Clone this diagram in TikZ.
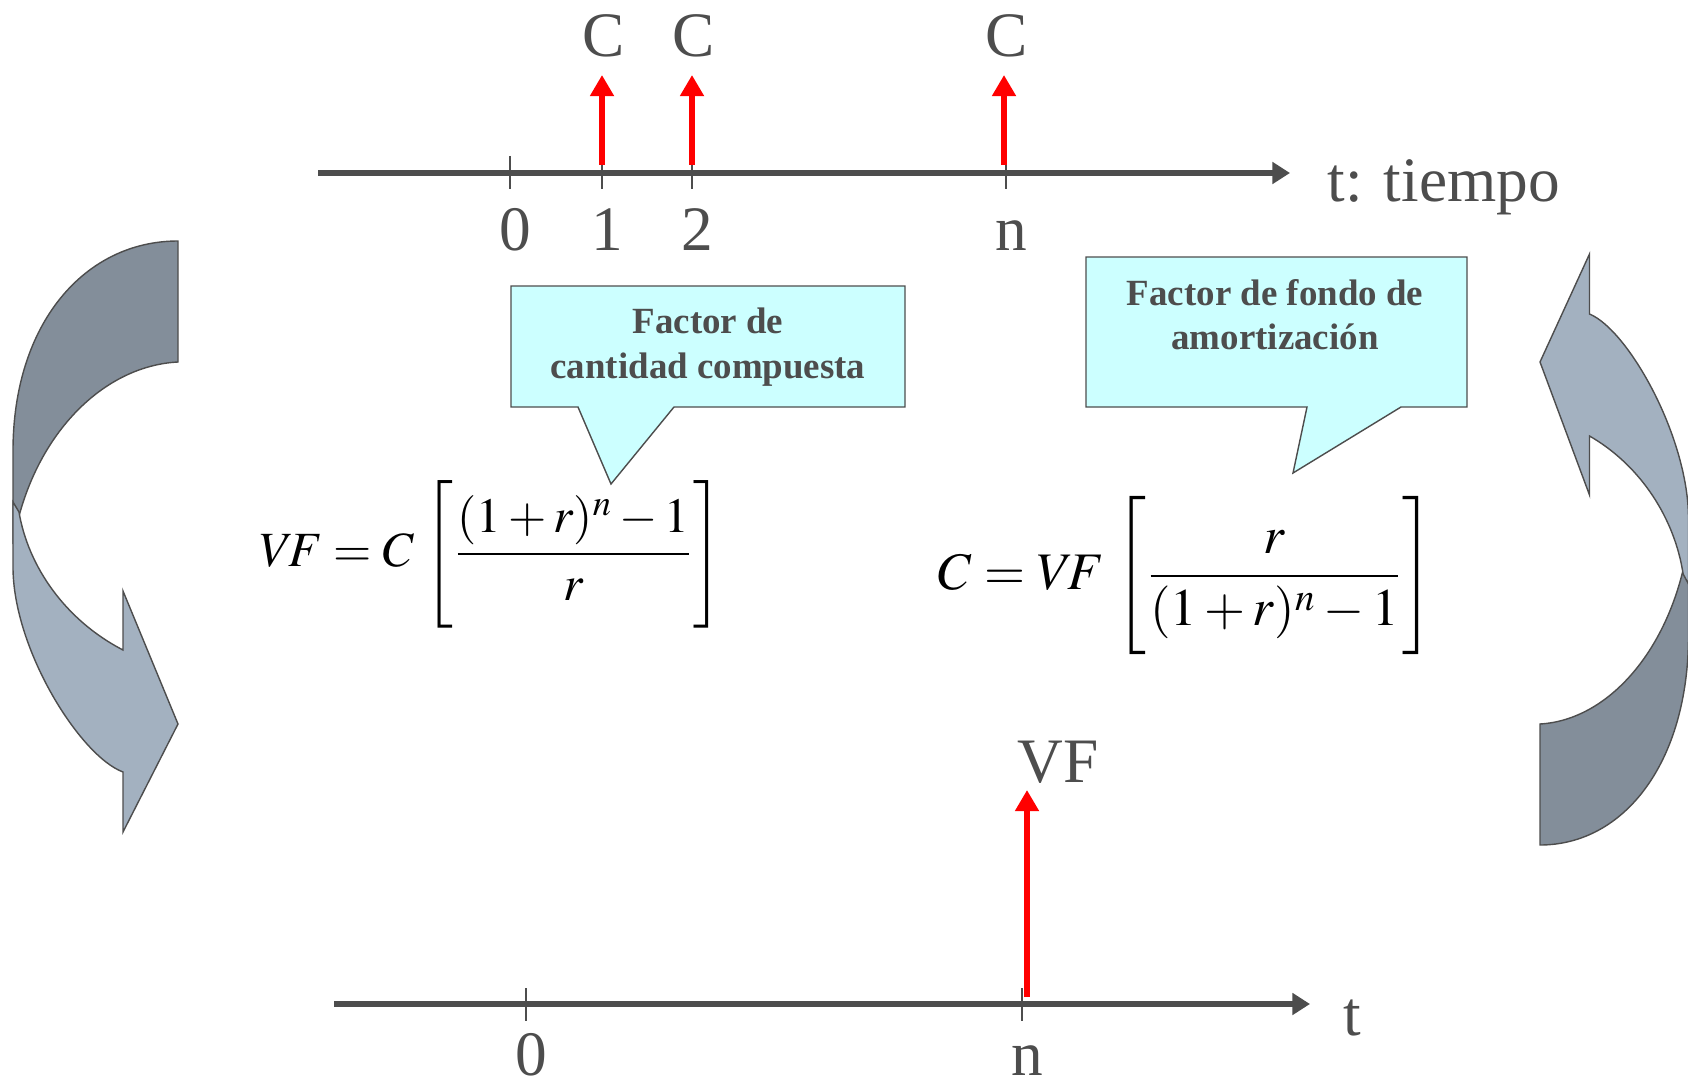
\documentclass[tikz,border=0pt]{standalone}
\usepackage{mathptmx}
\usepackage[no-math]{fontspec}
\setmainfont{Liberation Serif}
\usetikzlibrary{arrows.meta}
\definecolor{axisgray}{HTML}{4D4D4D}
\definecolor{notecyan}{HTML}{CCFFFF}
\definecolor{banddark}{HTML}{838E9A}
\definecolor{bandlight}{HTML}{A3B1C0}

% curved band arrow, drawn in pixel units (left copy)
\newcommand\bendarrow{%
  \filldraw[band, fill=banddark] (178,241) -- (178,362)
    .. controls (100,366) and (30,440) .. (13,544) -- (13,451)
    .. controls (13,323) and (85,241) .. (178,241) -- cycle;
  \filldraw[band, fill=bandlight] (123,650)
    .. controls (65,620) and (28,566) .. (19,512) -- (13,502) -- (13,567)
    .. controls (13,649) and (80,756) .. (123,772)
    -- (123,832) -- (178,724) -- (123,591) -- cycle;
}
% tall bracket strut
\newcommand\brk[1]{\vcenter{\hbox{\rule{0pt}{#1}}}}

\begin{document}
\begin{tikzpicture}[x=0.01cm, y=-0.01cm,
    axis/.style={line width=1.6pt, draw=axisgray, -{Triangle[length=5pt, width=6pt]}},
    tick/.style={line width=0.5pt, draw=axisgray},
    cash/.style={line width=1.6pt, draw=red, -{Triangle[length=6pt, width=6.5pt]}},
    lab/.style={inner sep=0pt, text=axisgray, font=\fontsize{18}{21}\selectfont},
    band/.style={draw=axisgray, line width=0.4pt},
    note/.style={fill=notecyan, draw=axisgray, line width=0.4pt},
    notetext/.style={align=center, inner sep=0pt, text=axisgray,
      font=\fontsize{10.5}{12.6}\selectfont\bfseries}]
  \useasboundingbox (0,0) rectangle (1688,1085);

  % bent arrows on both sides
  \bendarrow
  \begin{scope}[shift={(1700.2,1086)}, xscale=-0.9, yscale=-1]
    \bendarrow
  \end{scope}

  % upper time line
  \coordinate (ua) at (318,173);
  \coordinate (ub) at (1290,173);
  \draw[axis] (ua) -- (ub);
  \node[lab, anchor=base west] (tiempo) at (1327,202) {t: tiempo};
  \draw[tick] (510,156) -- (510,189);
  \draw[tick] (602,156) -- (602,189);
  \draw[tick] (692,156) -- (692,189);
  \draw[tick] (1006,156) -- (1006,189);
  \node[lab, anchor=base] (u0) at (515,250) {0};
  \node[lab, anchor=base] (u1) at (607,250) {1};
  \node[lab, anchor=base] (u2) at (697,250) {2};
  \node[lab, anchor=base] (un) at (1011,250) {n};

  % payments C
  \node[lab, anchor=base] (c1) at (604,57) {C};
  \node[lab, anchor=base] (c2) at (694,57) {C};
  \node[lab, anchor=base] (cn) at (1007,57) {C};
  \coordinate (p1) at (602,165);
  \coordinate (p2) at (692,165);
  \coordinate (pn) at (1004,165);
  \coordinate (q1) at (602,75);
  \coordinate (q2) at (692,75);
  \coordinate (qn) at (1004,75);
  \draw[cash] (p1) -- (q1);
  \draw[cash] (p2) -- (q2);
  \draw[cash] (pn) -- (qn);

  % lower time line
  \coordinate (la) at (334,1004);
  \coordinate (lb) at (1310,1004);
  \draw[axis] (la) -- (lb);
  \node[lab, anchor=base west] (tt) at (1343,1035) {t};
  \draw[tick] (526,988) -- (526,1021);
  \draw[tick] (1022,988) -- (1022,1021);
  \node[lab, anchor=base] (l0) at (531,1075) {0};
  \node[lab, anchor=base] (ln) at (1027,1075) {n};
  \node[lab, anchor=base] (vflab) at (1058,782) {VF};
  \coordinate (pv) at (1027,997);
  \coordinate (qv) at (1027,790);
  \draw[cash] (pv) -- (qv);

  % callouts
  \filldraw[note] (511,286) -- (905,286) -- (905,407) -- (674,407)
    -- (611,484) -- (578,407) -- (511,407) -- cycle;
  \node[notetext] (fcc) at (708,347) {Factor de\\cantidad compuesta};
  \filldraw[note] (1086,257) -- (1467,257) -- (1467,407) -- (1401,407)
    -- (1293,473) -- (1307,407) -- (1086,407) -- cycle;
  \node[notetext] (ffa) at (1275,315) {Factor de fondo de\\amortización};

  % formulas
  \node[inner sep=0pt, font=\fontsize{14}{16}\selectfont] (fvf) at (491,554)
    {$V\!F = C\,\left[\brk{44pt}\displaystyle\frac{(1+r)^n-1}{r}\right]$};
  \node[inner sep=0pt, font=\fontsize{15}{18}\selectfont] (fc) at (1186,576)
    {$C = V\!F\,\left[\brk{42pt}\displaystyle\frac{r}{(1+r)^n-1}\right]$};
\end{tikzpicture}
\end{document}
